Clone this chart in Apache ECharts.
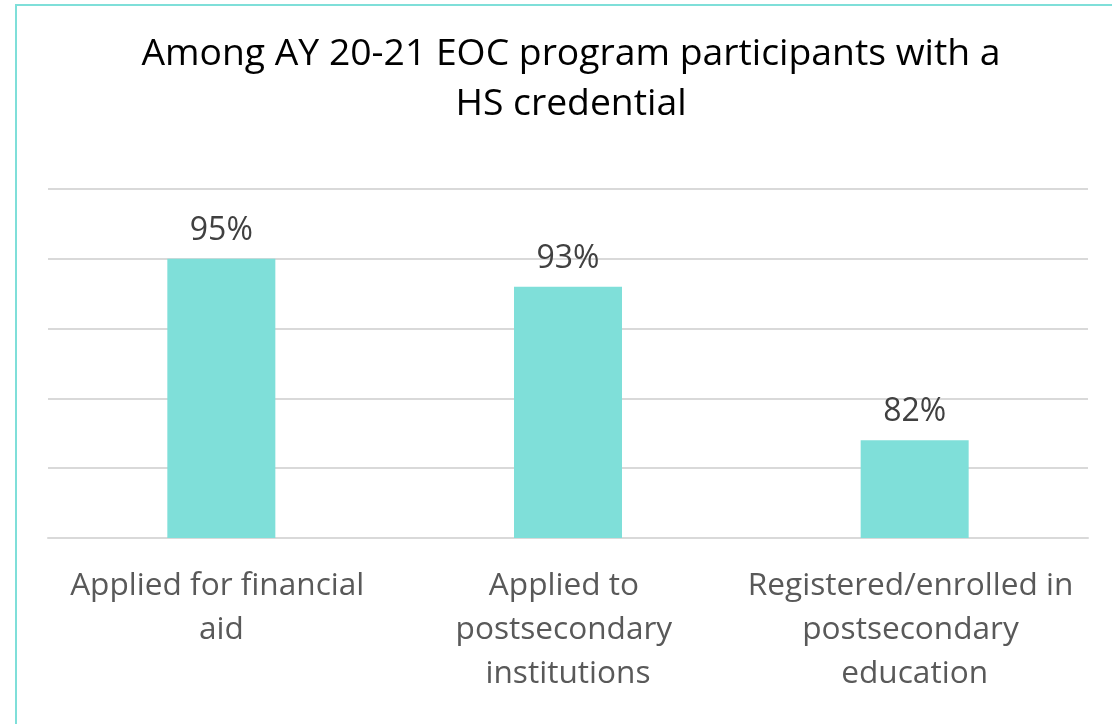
<!DOCTYPE html>
<html>
<head>
<meta charset="utf-8">
<script src="https://cdn.jsdelivr.net/npm/echarts@6/dist/echarts.min.js"></script>
<style>
html,body{margin:0;padding:0;background:#fff;}
#chart{width:1112px;height:724px;}
</style>
</head>
<body>
<div id="chart"></div>
<script>
const titleText = 'Among AY 20-21 EOC program participants with a\nHS credential';
const categories = ['Applied for financial aid', 'Applied to postsecondary institutions', 'Registered/enrolled in postsecondary education'];
const values = [95, 93, 82];
const yMin = 75, yMax = 100, yStep = 5;

const chart = echarts.init(document.getElementById('chart'), null, {renderer: 'canvas'});
chart.setOption({
  backgroundColor: '#ffffff',
  animation: false,
  graphic: [{
    type: 'rect',
    shape: {x: 16, y: 5, width: 1300, height: 900},
    style: {fill: 'none', stroke: '#7fdfd9', lineWidth: 2},
    silent: true
  }],
  title: {
    text: titleText,
    left: 566,
    top: 24,
    textAlign: 'center',
    textStyle: {fontFamily: 'Open Sans', fontSize: 37.3, fontWeight: 'normal', color: '#000000', lineHeight: 50}
  },
  grid: {left: 48, right: 24, top: 189, bottom: 186, containLabel: false},
  xAxis: {
    type: 'category',
    data: categories,
    axisLine: {show: true, lineStyle: {color: '#d9d9d9', width: 2}},
    axisTick: {show: false},
    axisLabel: {
      interval: 0,
      fontFamily: 'Open Sans',
      fontSize: 31.6,
      color: '#595959',
      lineHeight: 44,
      margin: 26,
      width: 340,
      overflow: 'break'
    }
  },
  yAxis: {
    type: 'value',
    min: yMin,
    max: yMax,
    interval: yStep,
    axisLabel: {show: false},
    axisLine: {show: false},
    axisTick: {show: false},
    splitLine: {lineStyle: {color: '#d9d9d9', width: 2}}
  },
  series: [{
    type: 'bar',
    data: values,
    barWidth: 108,
    itemStyle: {color: '#7fdfd9'},
    label: {
      show: true,
      position: 'top',
      distance: 12,
      formatter: '{c}%',
      fontFamily: 'Open Sans',
      fontSize: 32,
      color: '#404040'
    }
  }]
});
</script>
</body>
</html>
